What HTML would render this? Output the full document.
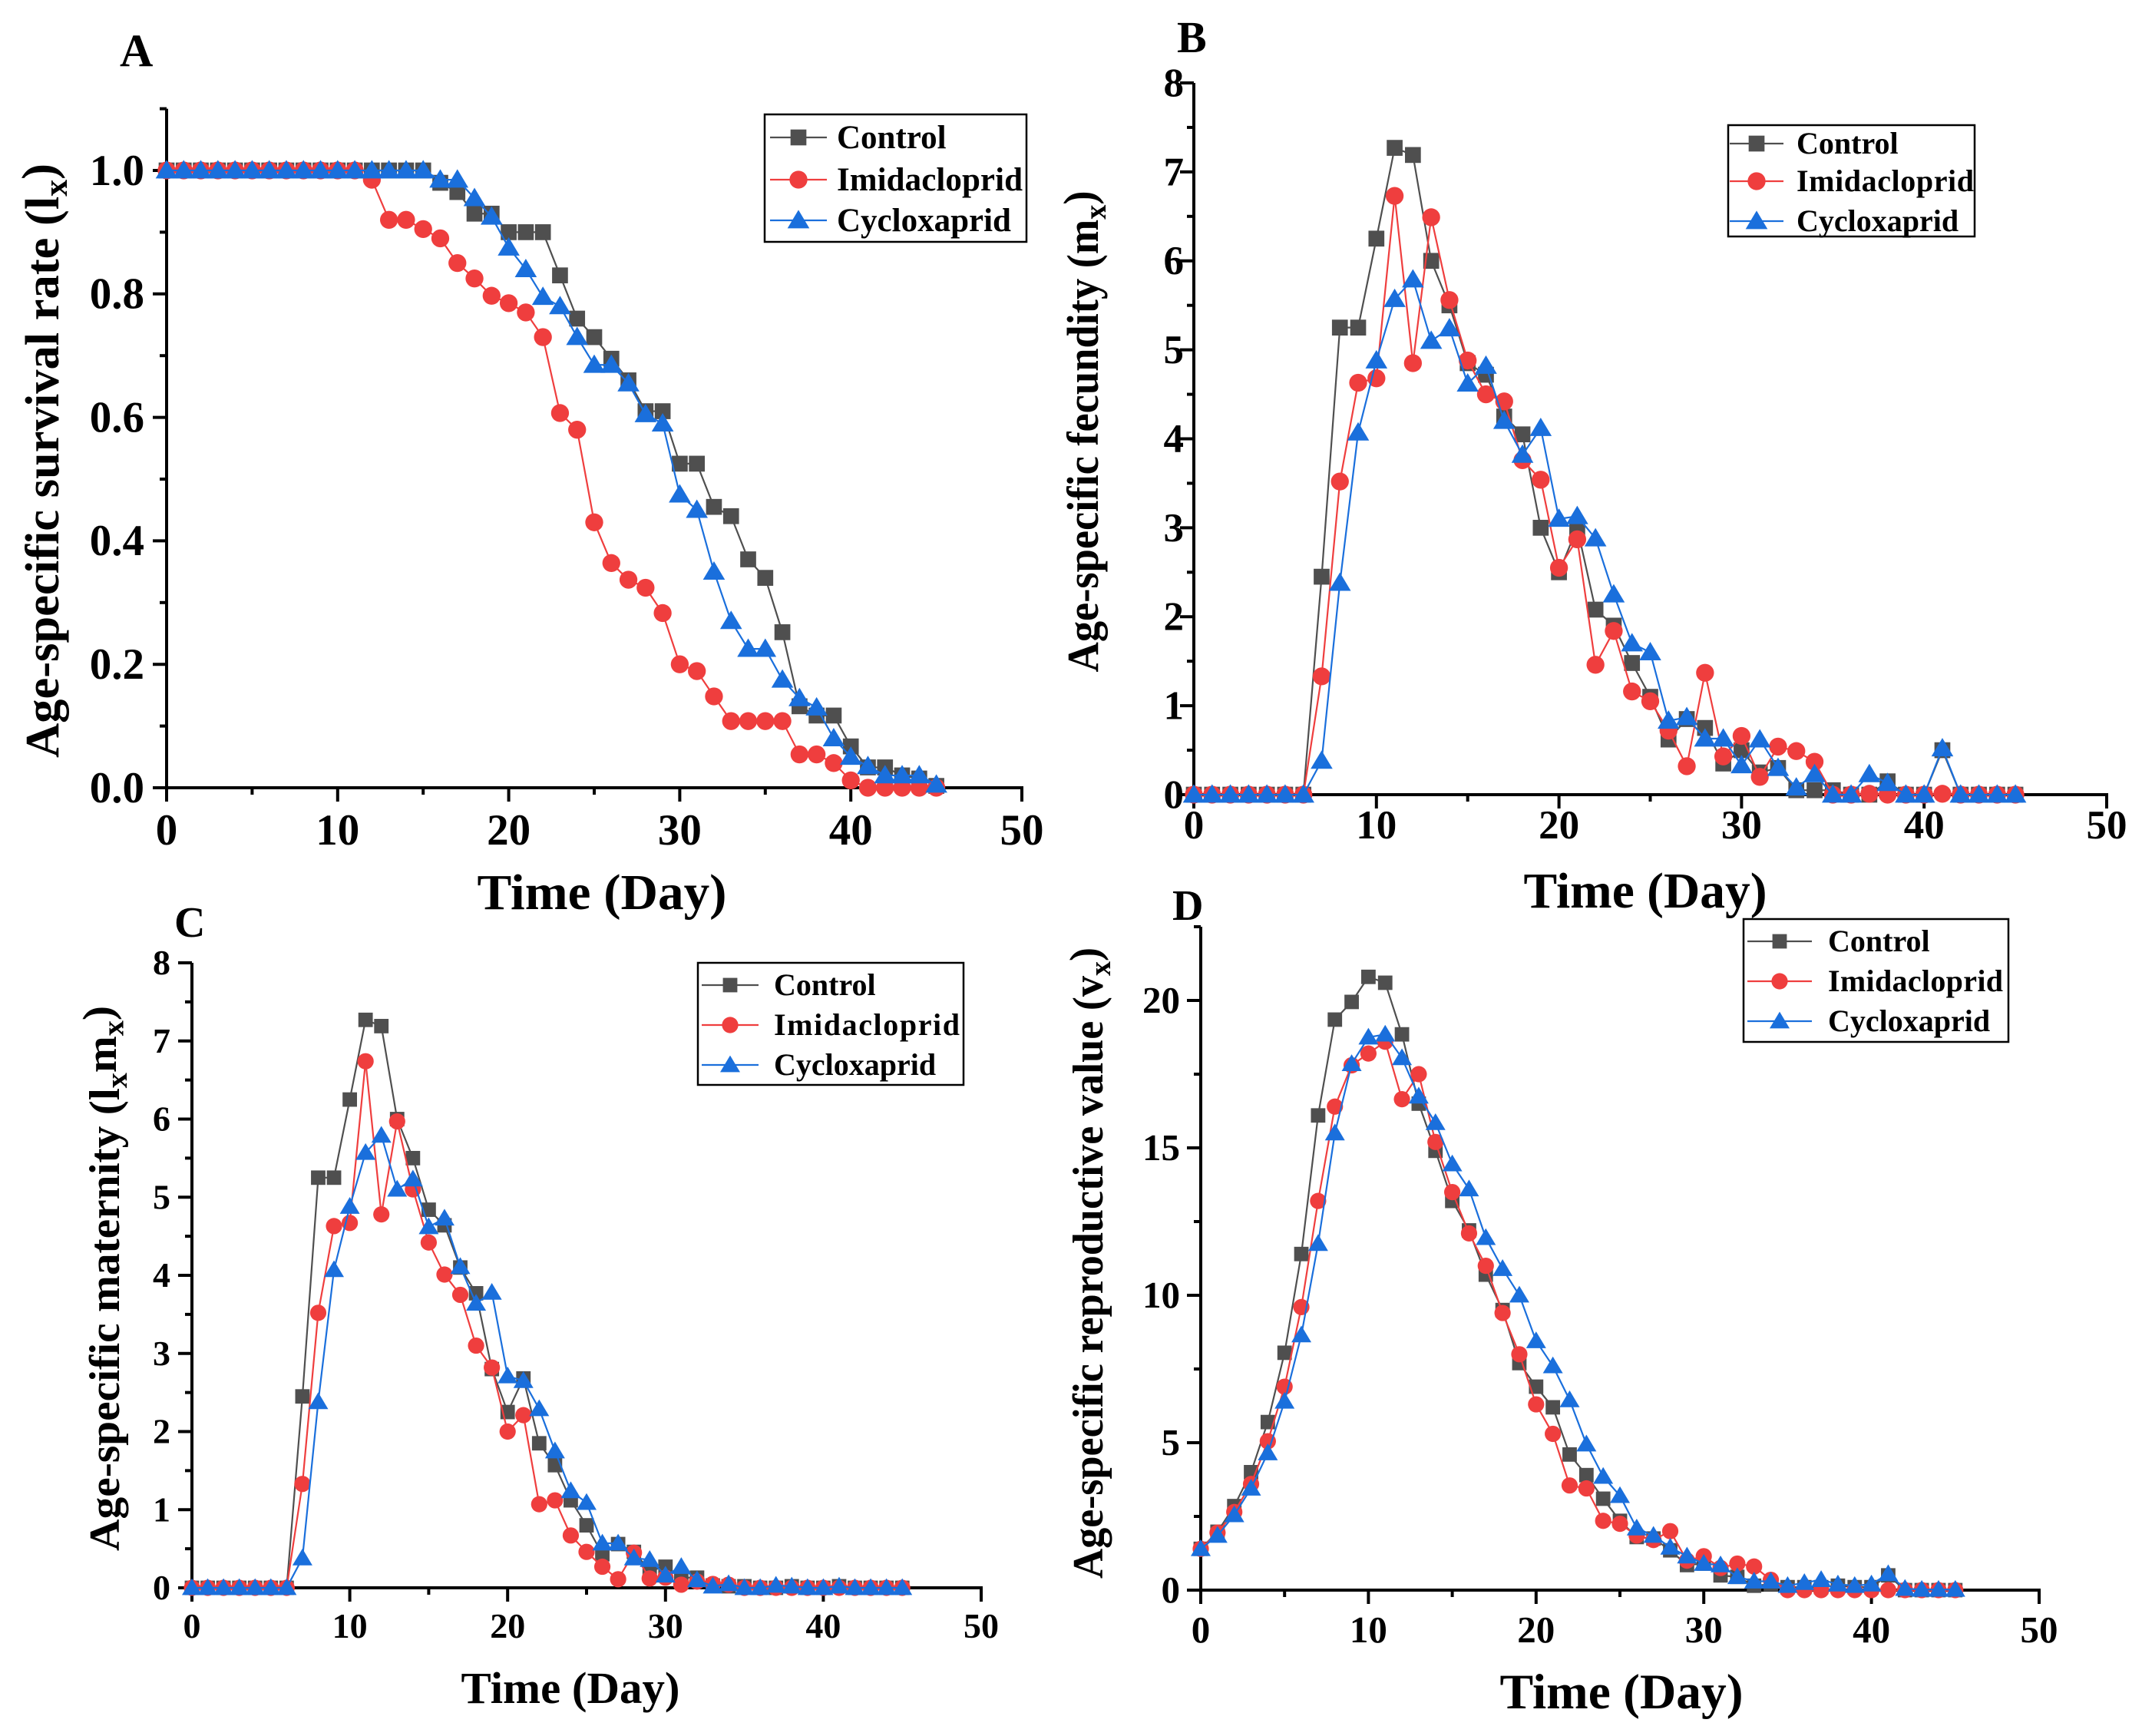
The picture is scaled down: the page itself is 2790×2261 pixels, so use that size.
<!DOCTYPE html>
<html><head><meta charset="utf-8"><style>
html,body{margin:0;padding:0;background:#fff}
svg{display:block}
text{font-family:"Liberation Serif",serif;font-weight:bold;fill:#000}
</style></head><body>
<svg id="fig" width="2790" height="2261" viewBox="0 0 2790 2261" xmlns="http://www.w3.org/2000/svg"></svg>
<script>
// ---- Data ----
const days = Array.from({length:46},(_,i)=>i);
const seriesNames = ["Control","Imidacloprid","Cycloxaprid"];
const xTicks = [0,10,20,30,40,50];

const lxControl = [1,1,1,1,1,1,1,1,1,1,1,1,1,1,1,1,0.98,0.965,0.93,0.93,0.9,0.9,0.9,0.83,0.76,0.73,0.695,0.66,0.61,0.61,0.525,0.525,0.455,0.44,0.37,0.34,0.252,0.132,0.117,0.117,0.067,0.033,0.033,0.02,0.015,0.003];
const lxImid = [1,1,1,1,1,1,1,1,1,1,1,1,0.985,0.92,0.92,0.905,0.89,0.85,0.825,0.797,0.785,0.77,0.73,0.607,0.58,0.43,0.364,0.337,0.324,0.283,0.2,0.189,0.148,0.108,0.108,0.108,0.108,0.054,0.054,0.04,0.012,0,0,0,0,0];
const lxCyclo = [1,1,1,1,1,1,1,1,1,1,1,1,1,1,1,1,0.985,0.985,0.955,0.925,0.875,0.84,0.795,0.78,0.73,0.685,0.685,0.655,0.605,0.59,0.475,0.45,0.35,0.27,0.225,0.225,0.175,0.145,0.13,0.08,0.05,0.035,0.02,0.02,0.02,0.005];
const lxTicks = [0,0.2,0.4,0.6,0.8,1.0];

const mxControl = [0,0,0,0,0,0,0,2.45,5.25,5.25,6.25,7.27,7.19,6.0,5.5,4.85,4.72,4.25,4.05,3.0,2.5,3.0,2.08,1.9,1.48,1.1,0.62,0.85,0.75,0.35,0.5,0.25,0.3,0.05,0.05,0.05,0,0,0.15,0,0,0.5,0,0,0,0];
const mxImid = [0,0,0,0,0,0,0,1.33,3.52,4.63,4.68,6.73,4.85,6.49,5.56,4.88,4.5,4.42,3.76,3.54,2.55,2.87,1.46,1.84,1.16,1.05,0.72,0.32,1.37,0.43,0.66,0.2,0.54,0.49,0.37,0,0,0.01,0,0,0,0.01,0,0,0,0];
const mxCyclo = [0,0,0,0,0,0,0,0.38,2.38,4.07,4.88,5.57,5.79,5.1,5.24,4.62,4.82,4.2,3.82,4.12,3.1,3.13,2.88,2.25,1.7,1.6,0.83,0.87,0.63,0.63,0.33,0.62,0.3,0.08,0.23,0,0,0.23,0.13,0,0,0.52,0,0,0,0];
const mxTicks = [0,1,2,3,4,5,6,7,8];

const lmControl = [0,0,0,0,0,0,0,2.45,5.25,5.25,6.25,7.27,7.19,6.0,5.5,4.84,4.64,4.1,3.77,2.8,2.25,2.68,1.85,1.57,1.12,0.8,0.43,0.56,0.46,0.22,0.27,0.13,0.13,0.03,0.02,0.02,0,0,0.02,0,0,0.02,0,0,0,0];
const lmImid = [0,0,0,0,0,0,0,1.33,3.52,4.63,4.67,6.74,4.78,5.97,5.1,4.42,4.01,3.75,3.1,2.82,2.0,2.21,1.07,1.12,0.67,0.46,0.27,0.11,0.45,0.12,0.13,0.04,0.08,0.05,0.04,0,0,0,0,0,0,0,0,0,0,0];
const lmCyclo = [0,0,0,0,0,0,0,0.38,2.38,4.07,4.88,5.57,5.79,5.1,5.23,4.62,4.73,4.11,3.64,3.78,2.71,2.65,2.29,1.75,1.24,1.09,0.57,0.57,0.38,0.36,0.16,0.27,0.1,0.02,0.05,0,0,0.03,0.02,0,0,0.02,0,0,0,0];

const vxControl = [1.4,1.98,2.85,4.0,5.7,8.05,11.4,16.1,19.35,19.95,20.8,20.6,18.85,16.5,14.9,13.2,12.2,10.7,9.5,7.7,6.9,6.2,4.6,3.9,3.1,2.35,1.8,1.75,1.35,0.85,0.9,0.5,0.45,0.15,0.2,0.1,0.1,0.1,0.15,0.1,0.1,0.5,0,0,0,0];
const vxImid = [1.4,1.95,2.65,3.6,5.05,6.9,9.6,13.2,16.4,17.8,18.2,18.6,16.65,17.5,15.2,13.5,12.1,11.0,9.4,8.0,6.3,5.3,3.55,3.45,2.35,2.25,1.85,1.7,2.0,1.0,1.15,0.75,0.9,0.8,0.35,0,0,0,0,0,0,0,0,0,0,0];
const vxCyclo = [1.4,1.85,2.55,3.45,4.65,6.4,8.65,11.75,15.5,17.85,18.75,18.85,18.05,16.75,15.85,14.45,13.6,11.95,10.9,10.0,8.45,7.6,6.45,4.95,3.85,3.2,2.1,1.85,1.45,1.15,0.9,0.85,0.45,0.3,0.3,0.15,0.25,0.35,0.2,0.15,0.2,0.55,0.05,0.02,0.02,0.02];
const vxTicks = [0,5,10,15,20];

// ---- Drawing ----
const NS="http://www.w3.org/2000/svg";
const svg=document.getElementById('fig');
const colors=["#4f4f4f","#ef3e3e","#1a6fdc"];
function mk(tag,attrs,parent){const e=document.createElementNS(NS,tag);for(const k in attrs)e.setAttribute(k,attrs[k]);(parent||svg).appendChild(e);return e;}

function marker(g,type,cx,cy,color,s){
  let m;
  if(type===0){m=mk('rect',{x:cx-s*0.47,y:cy-s*0.47,width:s*0.94,height:s*0.94,fill:color},g);}
  else if(type===1){m=mk('circle',{cx:cx,cy:cy,r:s*0.53,fill:color},g);}
  else {m=mk('polygon',{points:`${cx},${cy-s*0.62} ${cx+s*0.65},${cy+s*0.47} ${cx-s*0.65},${cy+s*0.47}`,fill:color},g);}
  return m;
}

function panel(p){
  const g=mk('g',{});
  
  
  const X=v=>p.x0+(p.x1-p.x0)*v/50;
  const Y=v=>p.y0+(p.yv-p.y0)*v/p.yvVal;
  const ytop=Y(p.ymax);
  // axes
  const ax=mk('g',{},g);
  
  
  mk('line',{x1:p.x0,y1:ytop,x2:p.x0,y2:p.y0+2,stroke:'#000','stroke-width':4},ax);
  mk('line',{x1:p.x0-2,y1:p.y0,x2:p.x1+2,y2:p.y0,stroke:'#000','stroke-width':4},ax);
  for(let v=0;v<=50;v+=5){
    const maj=v%10===0;
    mk('line',{x1:X(v),y1:p.y0,x2:X(v),y2:p.y0+(maj?18:9),stroke:'#000','stroke-width':4},ax);
  }
  xTicks.forEach(v=>{
    const t=mk('text',{x:X(v),y:p.xlabY,'text-anchor':'middle','font-size':p.tf},ax);
    
    
    t.textContent=v;
  });
  const step=p.yTicks[1]-p.yTicks[0];
  for(let v=0;v<=p.ymax+1e-9;v+=step/2){
    const maj=Math.abs(v/step-Math.round(v/step))<1e-6;
    mk('line',{x1:p.x0,y1:Y(v),x2:p.x0-(maj?18:9),y2:Y(v),stroke:'#000','stroke-width':4},ax);
  }
  p.yTicks.forEach(v=>{
    const t=mk('text',{x:p.ylabX,y:Y(v)+p.tf*0.33,'text-anchor':'end','font-size':p.tf},ax);
    
    
    t.textContent=p.fmt(v);
  });
  // series
  p.data.forEach((arr,si)=>{
    const sg=mk('g',{},g);
    
    
    const pts=days.map(d=>X(d)+','+Y(arr[d])).join(' ');
    mk('polyline',{points:pts,fill:'none',stroke:colors[si],'stroke-width':2.2},sg);
    days.forEach(d=>{
      const m=marker(sg,si,X(d),Y(arr[d]),colors[si],p.ms);
      
      
    });
  });
  // legend
  const L=p.leg;
  const lg=mk('g',{},g);
  
  
  mk('rect',{x:L.x,y:L.y,width:L.w,height:L.h,fill:'#fff',stroke:'#000','stroke-width':2.5},lg);
  seriesNames.forEach((n,si)=>{
    const e=mk('g',{},lg);
    
    
    const cy=L.rows[si];
    mk('line',{x1:L.l1,y1:cy,x2:L.l2,y2:cy,stroke:colors[si],'stroke-width':2.2},e);
    marker(e,si,(L.l1+L.l2)/2,cy,colors[si],p.ms);
    const t=mk('text',{x:L.tx,y:cy+L.fs*0.33,'font-size':L.fs},e);
    if(si===1)t.setAttribute('textLength',L.iw);
    t.textContent=n;
  });
  // titles
  const xt=mk('text',{x:p.xt[0],y:p.xt[1],'text-anchor':'middle','font-size':p.xt[2],textLength:p.xt[3],lengthAdjust:'spacingAndGlyphs'},g);
  
  
  xt.textContent='Time (Day)';
  const yt=mk('text',{transform:`translate(${p.yt[0]},${p.yt[1]}) rotate(-90)`,'text-anchor':'middle','font-size':p.yt[2],textLength:p.yt[3],lengthAdjust:'spacingAndGlyphs'},g);
  
  
  yt.innerHTML=p.ytitle;
  const pl=mk('text',{x:p.letter[0],y:p.letter[1],'font-size':p.letter[2]},g);
  
  
  pl.textContent=p.letter[3];
}

const sub=(s)=>`<tspan font-size="0.7em" dy="0.25em">${s}</tspan><tspan dy="-0.25em">)</tspan>`;
panel({name:'panel-a',x0:217,x1:1331,y0:1026,yv:222,yvVal:1.0,ymax:1.1,yTicks:lxTicks,fmt:v=>v.toFixed(1),
  data:[lxControl,lxImid,lxCyclo],tf:57,xlabY:1100,ylabX:188,ms:22,
  leg:{x:996,y:149,w:341,h:166,rows:[179,234,287],l1:1003,l2:1077,tx:1090,fs:43,iw:242},
  xt:[784,1184,66,325],yt:[76,600,62,774],ytitle:'Age-specific survival rate (l'+sub('x'),letter:[156,86,60,'A']});
panel({name:'panel-b',x0:1555,x1:2744,y0:1035,yv:108,yvVal:8,ymax:8,yTicks:mxTicks,fmt:v=>v,
  data:[mxControl,mxImid,mxCyclo],tf:53,xlabY:1092,ylabX:1542,ms:22,
  leg:{x:2251,y:163,w:321,h:145,rows:[187,236,288],l1:2253,l2:2323,tx:2340,fs:40,iw:231},
  xt:[2143,1182,66,317],yt:[1430,562,58,627],ytitle:'Age-specific fecundity (m'+sub('x'),letter:[1533,68,58,'B']});
panel({name:'panel-c',x0:250,x1:1278,y0:2068,yv:1254,yvVal:8,ymax:8,yTicks:mxTicks,fmt:v=>v,
  data:[lmControl,lmImid,lmCyclo],tf:46,xlabY:2133,ylabX:222,ms:20,
  leg:{x:909,y:1254,w:346,h:159,rows:[1283,1335,1387],l1:914,l2:988,tx:1008,fs:40,iw:242},
  xt:[743,2218,58,285],yt:[155,1665,56,710],ytitle:'Age-specific maternity (l<tspan font-size="0.7em" dy="0.25em">x</tspan><tspan dy="-0.25em">m</tspan>'+sub('x'),letter:[227,1220,56,'C']});
panel({name:'panel-d',x0:1564,x1:2656,y0:2071,yv:1303,yvVal:20,ymax:22.5,yTicks:vxTicks,fmt:v=>v,
  data:[vxControl,vxImid,vxCyclo],tf:49,xlabY:2139,ylabX:1537,ms:20,
  leg:{x:2271,y:1197,w:345,h:160,rows:[1226,1278,1330],l1:2276,l2:2360,tx:2381,fs:40,iw:228},
  xt:[2112,2225,65,317],yt:[1436,1645,56,822],ytitle:'Age-specific reproductive value (v'+sub('x'),letter:[1527,1198,56,'D']});
</script>
</body></html>
